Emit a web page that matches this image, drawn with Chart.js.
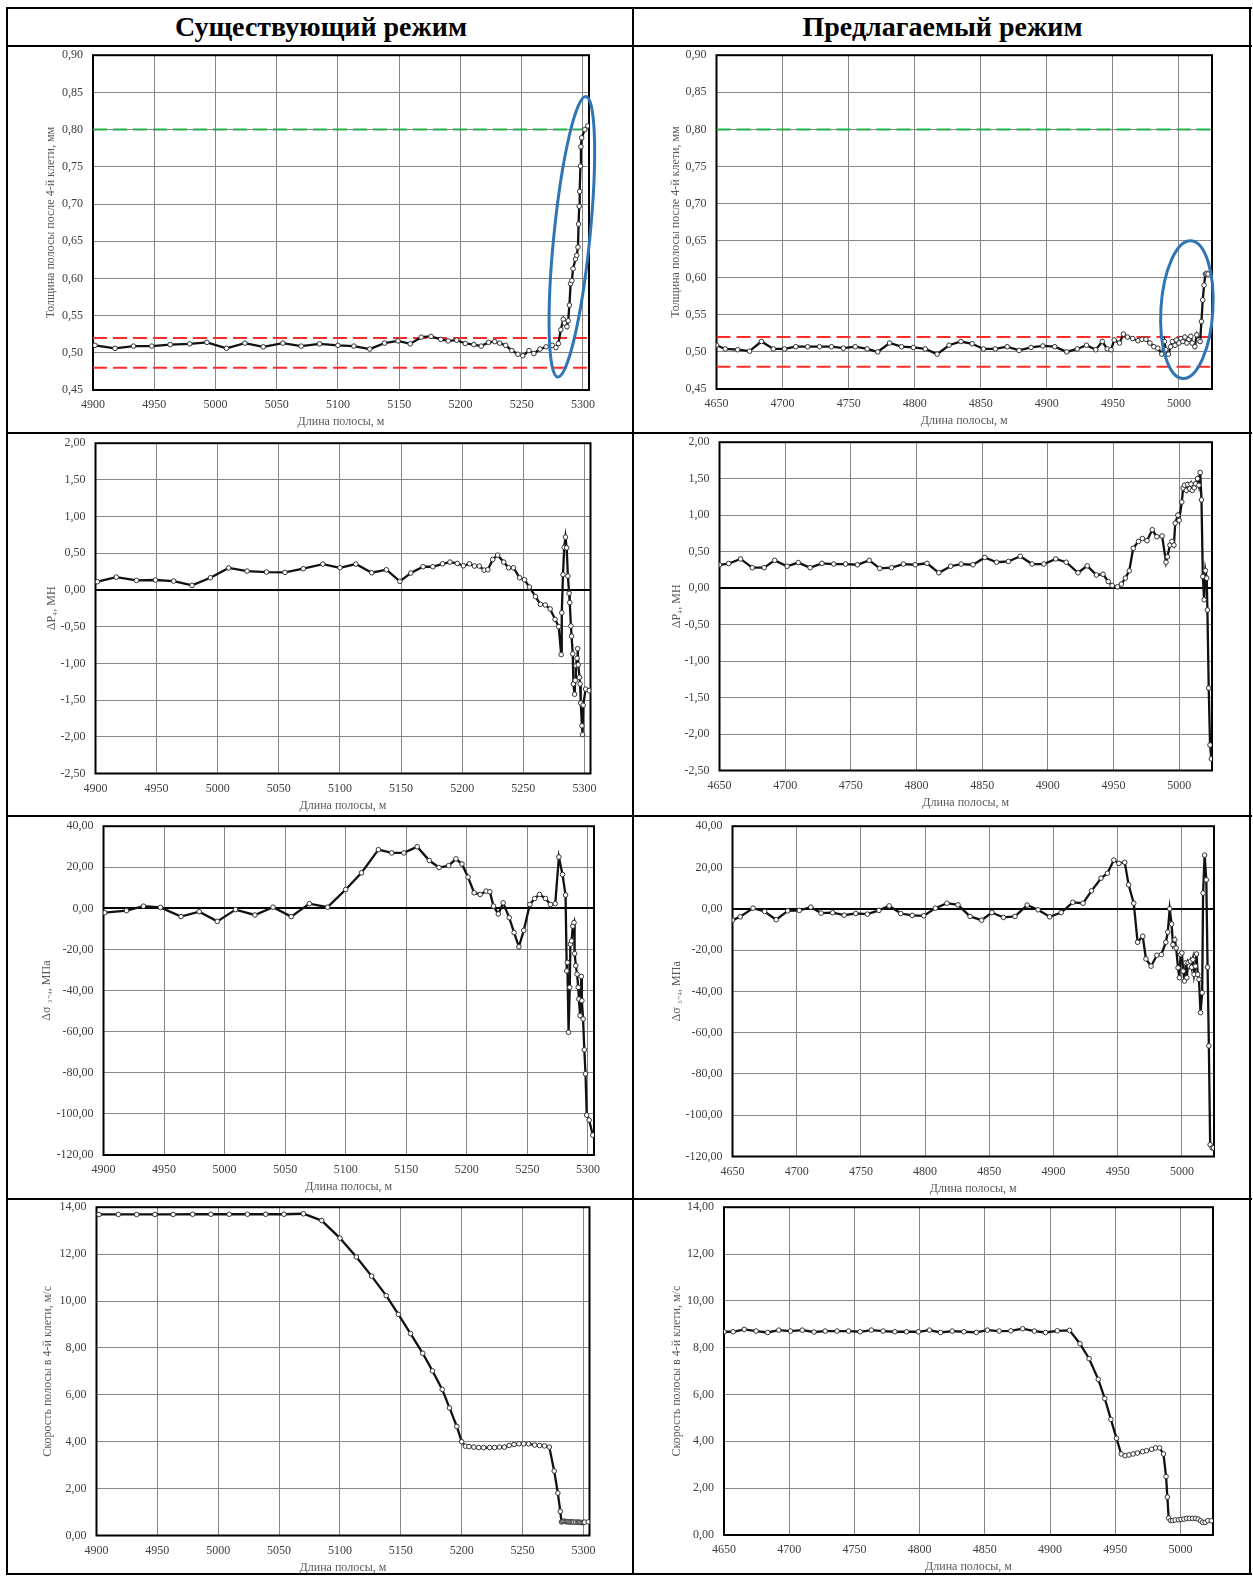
<!DOCTYPE html>
<html lang="ru">
<head>
<meta charset="utf-8">
<script src="https://cdn.jsdelivr.net/npm/chart.js@4.4.1/dist/chart.umd.min.js"></script>
<style>
  html, body { margin: 0; padding: 0; background: #fff; }
  body { width: 1253px; height: 1576px; position: relative; overflow: hidden;
         font-family: "Liberation Serif", "Times New Roman", serif; }
  .ln { position: absolute; background: #000; }
  .head { position: absolute; top: 9px; height: 36px; line-height: 36px; text-align: center;
          font-weight: bold; font-size: 28px; color: #000; }
  canvas { position: absolute; }
</style>
</head>
<body>
<div class="head" style="left:9px;width:624px">Существующий режим</div>
<div class="head" style="left:635px;width:615px">Предлагаемый режим</div>

<div class="ln" style="left:6px;top:7px;width:1246px;height:2px"></div>
<div class="ln" style="left:6px;top:45px;width:1246px;height:2px"></div>
<div class="ln" style="left:6px;top:432px;width:1246px;height:2px"></div>
<div class="ln" style="left:6px;top:815px;width:1246px;height:2px"></div>
<div class="ln" style="left:6px;top:1198px;width:1246px;height:2px"></div>
<div class="ln" style="left:6px;top:1573px;width:1246px;height:2px"></div>
<div class="ln" style="left:6px;top:7px;width:2px;height:1568px"></div>
<div class="ln" style="left:632px;top:7px;width:2px;height:1568px"></div>
<div class="ln" style="left:1249px;top:7px;width:2px;height:1568px"></div>

<script>
// ---- данные: толщина полосы после 4-й клети, мм ----
const thickCurX = [4901.6,4918,4933,4948,4963,4979,4993,5009,5024,5039,
  5055,5070,5085,5100,5113,5126,5138,5149,5159,5168,
  5176,5184,5190,5197,5204,5211,5217,5223,5228,5232,
  5237,5242,5247,5251,5256,5260,5265,5270,5275,5278,
  5280,5282,5284,5285,5287,5288,5289,5290,5291,5292,
  5294,5295,5296,5296.5,5297,5297.4,5298,5298.4,5299,5301.6,
  5304];
const thickCurY = [0.510,0.506,0.509,0.509,0.511,0.512,0.514,0.506,0.513,0.508,
  0.513,0.509,0.512,0.510,0.509,0.505,0.513,0.516,0.512,0.521,
  0.522,0.518,0.516,0.517,0.5125,0.511,0.509,0.514,0.515,0.513,
  0.510,0.503,0.498,0.496,0.503,0.499,0.505,0.508,0.510,0.507,
  0.5125,0.531,0.545,0.540,0.535,0.543,0.564,0.593,0.597,0.613,
  0.626,0.631,0.642,0.673,0.697,0.717,0.751,0.777,0.789,0.800,
  0.805];
const thickNewX = [4650,4656.6,4666,4675,4684,4693,4701.5,4710,4719,4728,
  4737,4746,4755,4764,4772,4781,4790,4799,4808,4817,
  4826,4835,4843.5,4852,4861,4870,4879,4888,4897,4906,
  4915,4923,4930,4937,4942,4945.7,4948.6,4951,4955,4958,
  4961,4965,4969,4972,4975,4978,4981,4984,4987,4989,
  4990,4992,4993.7,4995,4997,4998,5000,5001.5,5003,5004.5,
  5006,5007.5,5009,5010,5012,5013.5,5015,5016,5017,5018,
  5019,5020,5021,5022];
const thickNewY = [0.509,0.504,0.503,0.501,0.514,0.504,0.504,0.507,0.507,0.507,
  0.507,0.505,0.507,0.504,0.500,0.512,0.507,0.506,0.504,0.497,
  0.509,0.514,0.511,0.504,0.504,0.507,0.502,0.506,0.508,0.507,
  0.500,0.504,0.509,0.503,0.514,0.504,0.503,0.516,0.512,0.524,
  0.520,0.518,0.515,0.517,0.517,0.512,0.507,0.505,0.497,0.514,
  0.503,0.497,0.507,0.514,0.509,0.516,0.512,0.518,0.514,0.520,
  0.512,0.517,0.521,0.512,0.507,0.523,0.516,0.514,0.541,0.570,
  0.590,0.605,0.606,0.605];
const thickNominal = 0.80;          // зелёная линия
const thickTolerance = [0.52, 0.48]; // красные линии

// ---- ΔP4, МН ----
const forceCurX = [4901.6,4917,4933.5,4949,4964,4979,4994,5009,5024,5040,
  5055,5070,5086,5100,5113,5126,5138,5149,5158,5168,
  5176,5184,5190,5196,5201,5206,5210,5214,5218,5221,
  5225,5229,5234,5238,5242,5247,5251,5255,5260,5264,
  5268,5272,5276,5279,5281,5281.5,5282.5,5283.5,5284.5,5285.5,
  5286.5,5287.5,5288,5289,5289.5,5290.5,5291,5292,5292.5,5293,
  5294,5294.5,5295,5296,5296.5,5297,5298,5298.5,5299,5301,
  5304];
const forceCurY = [0.113,0.176,0.131,0.136,0.122,0.063,0.167,0.30,0.258,0.244,
  0.24,0.29,0.353,0.303,0.353,0.235,0.276,0.118,0.231,0.317,
  0.317,0.357,0.38,0.362,0.33,0.357,0.326,0.326,0.271,0.276,
  0.416,0.475,0.38,0.303,0.303,0.167,0.14,0.04,-0.09,-0.195,
  -0.204,-0.258,-0.40,-0.50,-0.88,-0.31,0.21,0.58,0.72,0.574,
  0.19,-0.045,-0.17,-0.49,-0.63,-0.87,-1.28,-1.42,-1.23,-1.03,
  -0.93,-0.80,-1.02,-1.19,-1.28,-1.54,-1.85,-1.97,-1.57,-1.35,
  -1.37];
const forceNewX = [4650,4657,4666,4675,4684,4692,4701.5,4710,4719,4728,
  4737,4746,4755,4764,4772,4781,4790,4799,4808,4817,
  4826,4834,4843,4852,4861,4870,4879,4888,4897,4906,
  4914,4923,4930,4937,4942,4946,4949,4953,4956,4959,
  4962,4965,4969,4972,4975.5,4979.5,4983,4987,4990,4991,
  4993,4994.5,4996,4997,4999,5000,5002,5003,5004,5005.5,
  5006.5,5008,5009,5010,5011.5,5012.5,5014,5015,5016,5017,
  5018,5019,5020,5021,5021.5,5022.5,5023.5,5024.5];
const forceNewY = [0.32,0.337,0.40,0.28,0.28,0.38,0.30,0.35,0.28,0.34,
  0.33,0.33,0.32,0.38,0.27,0.28,0.33,0.32,0.34,0.21,
  0.30,0.33,0.32,0.42,0.355,0.365,0.437,0.33,0.33,0.40,
  0.355,0.21,0.305,0.18,0.19,0.09,0.036,0.018,0.055,0.137,
  0.237,0.546,0.64,0.68,0.65,0.80,0.705,0.715,0.355,0.43,
  0.59,0.64,0.59,0.89,1.00,0.93,1.18,1.37,1.41,1.34,
  1.42,1.36,1.425,1.34,1.375,1.43,1.50,1.41,1.585,1.21,
  0.16,-0.16,0.24,0.137,-0.30,-1.37,-2.15,-2.34];

// ---- Δσ3-4, МПа ----
const tensCurX = [4901,4919,4933,4947,4964,4979,4994,5009,5025,5040,
  5055,5070,5085,5100,5113,5127,5138,5148,5159,5169,
  5177,5185,5191,5196,5201,5206,5211,5216,5219,5222,
  5226,5230,5235,5239,5243,5247,5252,5256,5260,5265,
  5269,5273,5276,5279,5281.5,5282.5,5283,5284,5285,5285.5,
  5286.5,5287.5,5288.5,5289,5290,5291,5292,5292.5,5293.5,5294.5,
  5295,5296,5297,5298,5299,5301,5304];
const tensCurY = [-2.1,-1.1,1.1,0.5,-4.0,-1.6,-6.3,-0.6,-3.2,0.6,
  -4.0,2.3,0.6,9.2,17.3,28.6,27.0,27.0,30.0,23.3,
  19.9,20.8,24.1,21.6,15.2,7.6,6.8,8.4,8.1,1.1,
  -2.7,2.7,-4.5,-11.8,-18.7,-10.7,1.9,4.8,6.8,4.8,
  1.9,2.3,25.0,16.5,6.5,-30.4,-26.3,-60.3,-38.4,-17.4,
  -15.8,-8.6,-6.9,-22.0,-27.9,-32.0,-38.4,-44.1,-52.2,-33.1,
  -44.9,-53.8,-68.8,-80.5,-100.6,-103,-110.3];
const tensNewX = [4650,4656,4666,4675,4684,4693,4702,4711,4719,4728,
  4737,4746,4755,4764,4772,4781,4790,4799,4808,4817,
  4825.6,4835,4844,4852,4861,4870,4879.5,4888,4897,4906,
  4915,4923,4929.6,4937,4942,4947,4951,4955.5,4958.5,4962.5,
  4965.5,4969.5,4972,4976,4980.5,4984,4987.5,4989,4990.5,4992,
  4993,4994.5,4995.5,4997,4998,4999,5000,5001,5002,5003,
  5003.8,5004.8,5005.8,5006.7,5007.6,5008.6,5009.5,5010.5,5011.4,5012.3,
  5013.3,5014.5,5015.8,5016.5,5017.7,5019,5020,5021,5022,5023.6,
  5024.6];
const tensNewY = [-5.5,-3.9,0.3,-1.3,-5.3,-1.0,-0.8,0.8,-2.1,-1.9,
  -3.1,-2.3,-2.6,-0.8,1.4,-2.3,-3.2,-3.4,0.3,2.7,
  1.9,-3.7,-5.5,-1.8,-4.2,-3.7,1.8,-0.5,-3.9,-1.8,
  3.1,2.7,8.7,14.8,17.2,23.6,22.0,22.5,11.6,2.7,
  -16.2,-13.3,-24.3,-27.8,-22.5,-22.2,-16.2,-11.3,0,-7.4,
  -17.4,-15,-19,-28.6,-33.4,-22.2,-21.4,-30.2,-35,-26.2,
  -33.4,-26.2,-27.8,-25.4,-28.3,-24.6,-31.8,-27.8,-21.9,-31.8,
  -34.2,-50.3,-40.7,7.6,26.0,14.0,-28.3,-66.4,-114.3,-115.8,
  -115.8];

// ---- скорость полосы в 4-й клети, м/с ----
const speedCurX = [4902,4918,4933,4948,4963,4979,4994,5009,5024,5039,
  5054,5070,5085,5100,5113.5,5126,5138,5148,5158,5168,
  5176,5184,5190,5196,5200,5203,5206,5210,5214,5218,
  5223,5227,5231,5235,5239,5243,5247,5251,5255,5260,
  5264,5268,5272,5276,5279,5281,5282,5283,5284,5285,
  5286,5287,5288,5289,5290,5291,5292,5293.5,5295,5296,
  5297,5298,5299,5300,5301,5304];
const speedCurY = [13.69,13.69,13.69,13.69,13.69,13.70,13.70,13.70,13.70,13.70,
  13.70,13.72,13.43,12.68,11.88,11.06,10.23,9.43,8.61,7.77,
  7.02,6.23,5.44,4.65,4.0,3.81,3.79,3.77,3.75,3.75,
  3.75,3.75,3.77,3.77,3.84,3.88,3.91,3.91,3.91,3.86,
  3.84,3.82,3.77,2.75,1.81,1.03,0.58,0.60,0.61,0.60,
  0.59,0.59,0.58,0.58,0.58,0.58,0.57,0.57,0.57,0.57,
  0.56,0.56,0.55,0.56,0.57,0.58];
const speedNewX = [4650,4657,4665.5,4674.6,4683.5,4692,4701,4710,4719,4727.6,
  4736.7,4745.6,4754.4,4763,4772,4781,4790,4799,4807.6,4816,
  4825,4834,4843.5,4852,4861,4870,4879,4888,4896.5,4905.6,
  4915,4923,4930,4937,4942,4946.7,4951,4954.6,4957.6,4960.6,
  4963.7,4967,4971,4974,4978,4981,4984,4987,4989,4990,
  4991,4992.5,4994,4996,4998.5,5000.5,5002.7,5004.8,5007,5009.3,
  5011.5,5013.6,5015.5,5017,5019,5021,5023.7];
const speedNewY = [8.68,8.68,8.78,8.71,8.65,8.75,8.71,8.75,8.67,8.71,
  8.71,8.71,8.68,8.75,8.71,8.68,8.68,8.68,8.75,8.65,
  8.71,8.68,8.65,8.75,8.71,8.72,8.81,8.71,8.65,8.72,
  8.74,8.17,7.53,6.65,5.83,4.94,4.13,3.46,3.39,3.42,
  3.46,3.50,3.56,3.60,3.66,3.72,3.72,3.46,2.50,1.62,
  0.72,0.62,0.62,0.64,0.65,0.67,0.68,0.71,0.71,0.71,
  0.71,0.68,0.61,0.54,0.54,0.61,0.61];

// подписи осей
const xTitle = 'Длина полосы, м';
const yTitles = {
  thick: 'Толщина полосы после 4-й клети, мм',
  force: 'ΔP₄, МН',
  tens: 'Δσ ₃₋₄, МПа',
  speed: 'Скорость полосы в 4-й клети, м/с'
};
const rangeCur = [4900, 5305];
const rangeNew = [4650, 5025];

// =========================
// ОФОРМЛЕНИЕ
// =========================
const FONT = '"Liberation Serif", "Times New Roman", serif';
const FS = 12;
Chart.defaults.font.family = FONT;
Chart.defaults.font.size = FS;
Chart.defaults.animation = false;

const framePlugin = {
  id: 'frame',
  beforeDatasetsDraw(chart) {
    const { ctx, chartArea: a } = chart;
    ctx.save();
    ctx.strokeStyle = '#000';
    ctx.lineWidth = 2;
    ctx.strokeRect(a.left, a.top, a.right - a.left, a.bottom - a.top);
    ctx.restore();
  }
};

const ellipsePlugin = {
  id: 'ellipse',
  afterDraw(chart, args, opts) {
    if (!opts || opts.cx === undefined) return;
    const ctx = chart.ctx;
    const x = chart.scales.x.getPixelForValue(opts.cx);
    const y = chart.scales.y.getPixelForValue(opts.cy);
    ctx.save();
    ctx.strokeStyle = '#2e75b6';
    ctx.lineWidth = 3;
    ctx.beginPath();
    ctx.ellipse(x, y, opts.rx, opts.ry, opts.rot, 0, Math.PI * 2);
    ctx.stroke();
    ctx.restore();
  }
};

const fmt = (v) => Number(v).toFixed(2).replace('.', ',');
const pts = (xs, ys) => xs.map((x, i) => ({ x: x, y: ys[i] }));

function makeChart(spec) {
  const lh = FS * 1.2;
  const [L, T, R, B] = spec.plot;
  const cl = spec.col === 0 ? 9 : 636;
  const ct = T - 16;
  const cw = Math.round(R + 34 - cl);
  const xh = 32 + lh / 2;
  const ch = Math.round(B + xh + 4 - ct);

  const canvas = document.createElement('canvas');
  canvas.width = cw;
  canvas.height = ch;
  canvas.style.left = cl + 'px';
  canvas.style.top = ct + 'px';
  canvas.style.width = cw + 'px';
  canvas.style.height = ch + 'px';
  document.body.appendChild(canvas);

  const padLeft = spec.yTitleX - lh / 2 - cl;
  const yw = L - cl - padLeft;

  const datasets = [{
    data: pts(spec.xs, spec.ys),
    borderColor: '#111',
    borderWidth: 2.3,
    pointRadius: 2.3,
    pointBackgroundColor: '#fff',
    pointBorderColor: '#333',
    pointBorderWidth: 1,
    tension: 0
  }];
  (spec.limits || []).forEach(lim => {
    datasets.push({
      data: [{ x: spec.xr[0], y: lim.v }, { x: spec.xr[1], y: lim.v }],
      borderColor: lim.color,
      borderWidth: 2,
      borderDash: [14, 6],
      pointRadius: 0
    });
  });

  const gridColor = (c) => (spec.zero && c.tick && Math.abs(c.tick.value) < 1e-9) ? '#000' : '#858585';
  const gridWidth = (c) => (spec.zero && c.tick && Math.abs(c.tick.value) < 1e-9) ? 2 : 1;

  return new Chart(canvas, {
    type: 'line',
    data: { datasets: datasets },
    options: {
      responsive: false,
      devicePixelRatio: 1,
      layout: { padding: { left: padLeft, top: T - ct, right: cl + cw - R, bottom: ct + ch - (B + xh) } },
      plugins: {
        legend: { display: false },
        tooltip: { enabled: false },
        ellipse: spec.ellipse || false
      },
      scales: {
        x: {
          type: 'linear',
          min: spec.xr[0], max: spec.xr[1],
          border: { display: false },
          grid: { color: '#858585', lineWidth: 1, drawTicks: false },
          ticks: { stepSize: 50, includeBounds: false, autoSkip: false, maxRotation: 0,
                   padding: 8, color: '#404040', callback: v => String(v) },
          title: { display: true, text: xTitle, color: '#595959', padding: 0, font: { size: FS } },
          afterFit: s => { s.height = xh; }
        },
        y: {
          min: spec.yr[0], max: spec.yr[1],
          border: { display: false },
          grid: { color: gridColor, lineWidth: gridWidth, drawTicks: false },
          ticks: { stepSize: spec.yr[2], autoSkip: false, padding: 10, color: '#404040', callback: fmt },
          title: { display: true, text: spec.yTitle, color: '#595959', padding: 0, font: { size: FS } },
          afterFit: s => { s.width = yw; }
        }
      }
    },
    plugins: [framePlugin, ellipsePlugin]
  });
}

const thickLimits = [
  { v: thickNominal, color: '#21b24b' },
  { v: thickTolerance[0], color: '#ff2a2a' },
  { v: thickTolerance[1], color: '#ff2a2a' }
];

makeChart({ col: 0, plot: [93, 54, 589, 390], yTitleX: 51, xr: rangeCur, yr: [0.45, 0.90, 0.05],
  xs: thickCurX, ys: thickCurY, yTitle: yTitles.thick, limits: thickLimits,
  ellipse: { cx: 5291, cy: 0.656, rx: 18, ry: 141, rot: 0.1 } });
makeChart({ col: 1, plot: [716.5, 54, 1212, 389], yTitleX: 676, xr: rangeNew, yr: [0.45, 0.90, 0.05],
  xs: thickNewX, ys: thickNewY, yTitle: yTitles.thick, limits: thickLimits,
  ellipse: { cx: 5006, cy: 0.557, rx: 26, ry: 69, rot: 0.06 } });
makeChart({ col: 0, plot: [95.5, 441.5, 590.5, 773], yTitleX: 52, xr: rangeCur, yr: [-2.5, 2.0, 0.5],
  xs: forceCurX, ys: forceCurY, yTitle: yTitles.force, zero: true });
makeChart({ col: 1, plot: [719.5, 440.5, 1212, 770], yTitleX: 677, xr: rangeNew, yr: [-2.5, 2.0, 0.5],
  xs: forceNewX, ys: forceNewY, yTitle: yTitles.force, zero: true });
makeChart({ col: 0, plot: [103.5, 825, 594, 1155], yTitleX: 47, xr: rangeCur, yr: [-120, 40, 20],
  xs: tensCurX, ys: tensCurY, yTitle: yTitles.tens, zero: true });
makeChart({ col: 1, plot: [732.5, 825, 1214, 1156.5], yTitleX: 677, xr: rangeNew, yr: [-120, 40, 20],
  xs: tensNewX, ys: tensNewY, yTitle: yTitles.tens, zero: true });
makeChart({ col: 0, plot: [96.5, 1205.5, 589.5, 1535], yTitleX: 48, xr: rangeCur, yr: [0, 14, 2],
  xs: speedCurX, ys: speedCurY, yTitle: yTitles.speed });
makeChart({ col: 1, plot: [724, 1206, 1213, 1535], yTitleX: 677, xr: rangeNew, yr: [0, 14, 2],
  xs: speedNewX, ys: speedNewY, yTitle: yTitles.speed });
</script>
</body>
</html>
